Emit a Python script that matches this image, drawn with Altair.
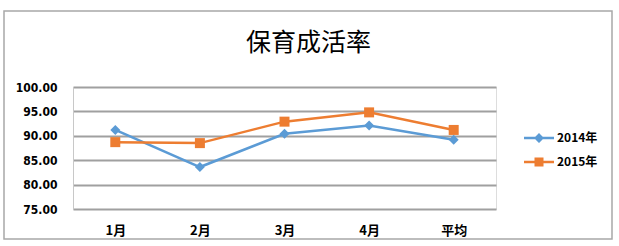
import altair as alt
import pandas as pd

# Survival rate by month, two years
months = ["1月", "2月", "3月", "4月", "平均"]
years = ["2014年", "2015年"]
rate_2014 = [91.2, 83.6, 90.4, 92.1, 89.2]
rate_2015 = [88.7, 88.5, 92.9, 94.8, 91.2]

colors = ["#5b9bd5", "#ed7d31"]
shapes = ["diamond", "square"]
# legend glyphs: a short line with the series marker on it
legend_paths = [
    "M-3,-0.25H3V0.25H-3Z M0,-1L1,0L0,1L-1,0Z",
    "M-3,-0.25H3V0.25H-3Z M-0.9,-0.9H0.9V0.9H-0.9Z",
]

rows = []
for m, a, b in zip(months, rate_2014, rate_2015):
    rows.append({"month": m, "year": years[0], "rate": a})
    rows.append({"month": m, "year": years[1], "rate": b})
df = pd.DataFrame(rows)

W, H = 423, 122
LAT = "Liberation Sans Narrow, DejaVu Sans Condensed, sans-serif"
CJK = "Liberation Sans Narrow, Noto Sans CJK SC, sans-serif"

legend = alt.Legend(
    title=None,
    orient="none",
    legendX=460,
    legendY=45,
    padding=0,
    symbolSize=100,
    symbolStrokeWidth=0,
    rowPadding=12,
    labelOffset=12,
    labelFont=CJK,
    labelFontSize=12,
    labelFontWeight="bold",
    labelColor="#000000",
)

x_enc = alt.X(
    "month:N",
    sort=months,
    scale=alt.Scale(type="point", padding=0.5),
    axis=alt.Axis(
        title=None,
        labelAngle=0,
        ticks=False,
        domain=False,
        labelPadding=15,
        labelFont=CJK,
        labelFontSize=13,
        labelFontWeight="bold",
        labelColor="#000000",
    ),
)
y_enc = alt.Y(
    "rate:Q",
    scale=alt.Scale(domain=[75, 100], nice=False, zero=False),
    axis=alt.Axis(
        title=None,
        values=[75, 80, 85, 90, 95, 100],
        format=".2f",
        ticks=False,
        domainColor="#c8c8c8",
        domainWidth=1,
        gridColor="#a0a0a0",
        gridWidth=1.8,
        labelPadding=16,
        labelFont=LAT,
        labelFontSize=12,
        labelFontWeight="bold",
        labelColor="#000000",
    ),
)
color_enc = alt.Color(
    "year:N",
    scale=alt.Scale(domain=years, range=colors),
    legend=legend,
)

base = alt.Chart(df).encode(x=x_enc, y=y_enc, color=color_enc)

lines = base.mark_line(strokeWidth=2.5)

point_layers = [
    base.transform_filter(alt.datum.year == yr).mark_point(
        filled=True, opacity=1, size=100, shape=sh
    )
    for yr, sh in zip(years, shapes)
]

legend_layer = base.transform_filter("false").mark_point(filled=True, opacity=1).encode(
    shape=alt.Shape(
        "year:N",
        scale=alt.Scale(domain=years, range=legend_paths),
        legend=legend,
    )
)

frame = alt.Chart(pd.DataFrame({"k": [0]})).mark_rect(
    fill=None, stroke="#a8a8a8", strokeWidth=1.5
).encode(
    x=alt.value(-69), x2=alt.value(539), y=alt.value(-76), y2=alt.value(152)
)

chart = alt.layer(frame, lines, *point_layers, legend_layer).properties(
    width=W,
    height=H,
    autosize=alt.AutoSizeParams(type="none"),
    padding={"left": 73, "top": 87, "right": 123, "bottom": 37},
    title=alt.TitleParams(
        "保育成活率",
        font="Noto Sans CJK SC",
        fontSize=25,
        fontWeight="normal",
        color="#000000",
        anchor="middle",
        dx=24,
        offset=-66,
        baseline="alphabetic",
    ),
).configure_view(stroke=None).configure(background="#ffffff")

chart.save("out.html", embed_options={"renderer": "svg", "actions": False})
